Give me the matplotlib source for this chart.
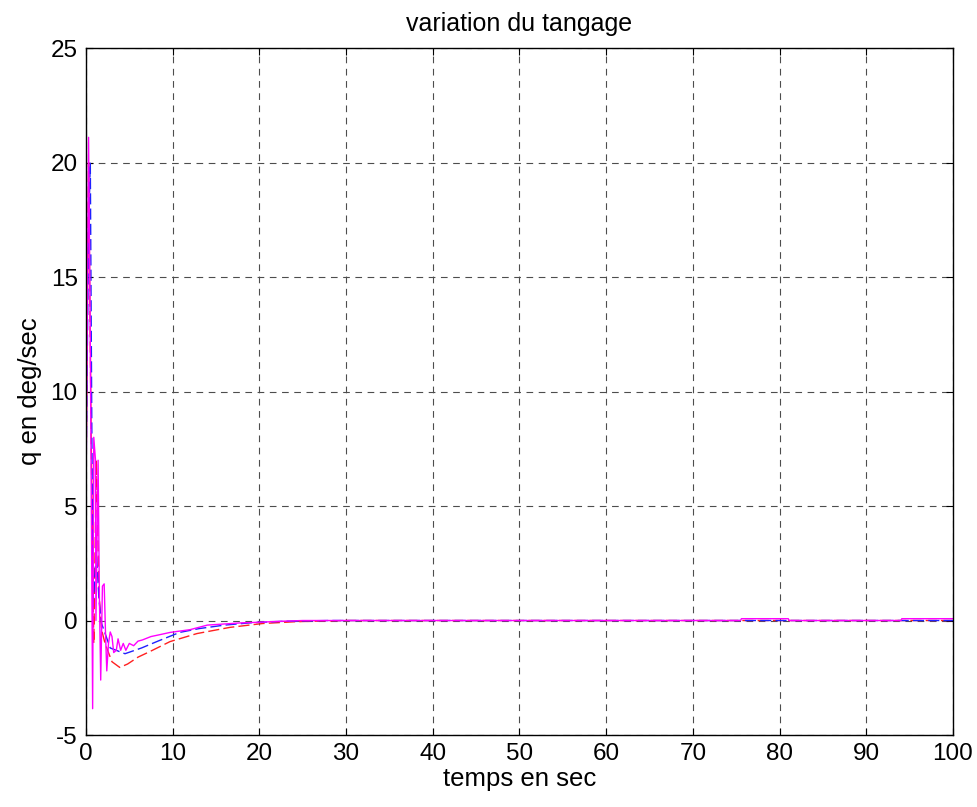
import matplotlib
matplotlib.use("Agg")
import matplotlib.pyplot as plt
import numpy as np

plt.rcParams['font.family'] = ['Liberation Sans', 'DejaVu Sans']
plt.rcParams['axes.unicode_minus'] = False

# pitch rate responses
t_m = [0, 0.3, 0.5, 0.77, 0.9, 1.1, 1.15, 1.4, 1.55, 1.7, 1.9, 2.1, 2.25, 2.4, 2.6, 2.8,
       3.0, 3.2, 3.5, 3.7, 4.0, 4.3, 4.6, 5.0, 5.5, 6.0, 6.5, 7.5, 8.5, 9.7, 12.0, 14.0,
       16.0, 18.0, 19.7, 22.0, 25.0, 75.5, 75.6, 81.0, 81.1, 94.0, 94.1, 100]
q_m = [5, 21.1, 12, -3.85, 8, 7, 0, 7, 1, -2.6, 1.5, 1.6, -0.5, -2.2, -1.0, -0.5,
       -0.7, -1.4, -1.3, -0.8, -1.3, -1.0, -1.3, -1.0, -1.1, -0.9, -0.85, -0.7, -0.62, -0.52, -0.4, -0.2,
       -0.15, -0.1, -0.08, -0.04, 0, 0, 0.08, 0.08, 0, 0, 0.08, 0.08]

t_r = [0, 0.3, 0.6, 0.9, 1.2, 1.5, 1.8, 2.2, 3.0, 3.9, 4.8, 6.0, 7.4, 9.7, 12.8, 16.6,
       20.4, 24.3, 30, 100]
q_r = [5.8, 20, 8, -1, 7, 1.2, -0.4, -1.0, -1.8, -2.05, -1.9, -1.6, -1.35, -0.92, -0.57, -0.3,
       -0.13, -0.05, 0, 0]

t_b = [0, 0.3, 0.5, 0.65, 0.8, 1.2, 1.5, 1.8, 2.8, 4.5, 6.4, 8.3, 10.8, 13.1, 16.0,
       19.0, 23.0, 28, 100]
q_b = [6, 17, 20, 10, 0.6, 3, 0.9, -0.13, -1.2, -1.45, -1.2, -0.9, -0.52, -0.35, -0.2,
       -0.1, -0.03, 0, 0]

fig = plt.figure(figsize=(9.78, 8.07), dpi=100)
ax = fig.add_axes([0.0879, 0.0892, 0.8865, 0.8513])

ax.plot(t_r, q_r, color='#ff2020', lw=1, dashes=(8, 3))
ax.plot(t_b, q_b, color='#2020ff', lw=1, dashes=(8, 3))
ax.plot(t_m, q_m, color='#ff00ff', lw=1)

ax.set_xlim(0, 100)
ax.set_ylim(-5, 25)
ax.set_xticks(np.arange(0, 101, 10))
ax.set_yticks(np.arange(-5, 26, 5))
ax.grid(True, color='0.3', linestyle=(0, (6, 5)), linewidth=0.8)
ax.tick_params(direction='in', top=True, right=True, labelsize=17.5, length=5, pad=6)
for s in ax.spines.values():
    s.set_linewidth(1)

ax.set_xlabel('temps en sec', fontsize=18.5, labelpad=1)
ax.set_ylabel('q en deg/sec', fontsize=18.5, labelpad=6)
ax.set_title('variation du tangage', fontsize=18, pad=12)

fig.savefig('out.png', dpi=100)
